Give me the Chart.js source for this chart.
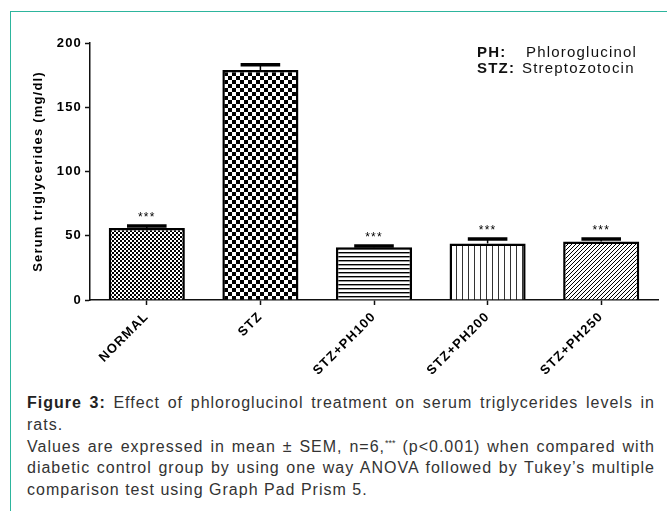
<!DOCTYPE html>
<html>
<head>
<meta charset="utf-8">
<title>Serum triglycerides</title>
<script src="https://cdn.jsdelivr.net/npm/chart.js@4.4.0/dist/chart.umd.min.js"></script>
<style>
  html, body { margin: 0; padding: 0; background: #fff; }
  body { width: 667px; height: 511px; position: relative; overflow: hidden; font-family: 'Liberation Sans', Arial, sans-serif; }
  #frame { position: absolute; left: 10px; top: 11px; width: 700px; height: 600px; border-left: 1.5px solid #2db59d; border-top: 1.5px solid #2db59d; }
  #bar-chart { position: absolute; left: 0; top: 0; }
  .key { position: absolute; left: 0; top: 0; font-size: 15px; line-height: 16px; letter-spacing: 1.2px; color: #111; white-space: nowrap; }
  .key span { position: absolute; }
  #caption { position: absolute; left: 27px; top: 392px; width: 628px; font-size: 16px; line-height: 21.8px; letter-spacing: 1px; color: #333; }
  #caption b { color: #222; }
  #caption .j { text-align: justify; text-align-last: justify; }
  #caption sup { font-size: 9px; line-height: 0; vertical-align: 6px; letter-spacing: 0; }
</style>
</head>
<body>
<div id="frame"></div>
<canvas id="bar-chart" width="667" height="380"></canvas>
<div class="key">
  <span style="left:477px; top:44px;"><b>PH:</b></span>
  <span style="left:526px; top:44px;">Phloroglucinol</span>
  <span style="left:477px; top:60px;"><b>STZ:</b></span>
  <span style="left:522px; top:60px;">Streptozotocin</span>
</div>
<div id="caption">
  <div class="j"><b>Figure 3:</b> Effect of phloroglucinol treatment on serum triglycerides levels in</div>
  <div>rats.</div>
  <div class="j">Values are expressed in mean ± SEM, n=6,<sup>***</sup> (p&lt;0.001) when compared with</div>
  <div class="j">diabetic control group by using one way ANOVA followed by Tukey’s multiple</div>
  <div>comparison test using Graph Pad Prism 5.</div>
</div>
<script>
( function() {

  var categories = [ 'NORMAL', 'STZ', 'STZ+PH100', 'STZ+PH200', 'STZ+PH250' ];
  var means = [ 56, 179, 41, 44, 45.5 ];
  var sems = [ 1.5, 4, 1, 3.5, 2 ];
  var marks = [ '***', '', '***', '***', '***' ];
  var yTicks = [ 0, 50, 100, 150, 200 ];

  var FONT = '"Liberation Sans", Arial, sans-serif';
  var INK = '#111';

  // small tiles for the black and white fills
  var makePattern = function( w, h, draw ) {
    var c = document.createElement( 'canvas' );
    c.width = w;
    c.height = h;
    var g = c.getContext( '2d' );
    g.fillStyle = '#fff';
    g.fillRect( 0, 0, w, h );
    g.fillStyle = '#000';
    draw( g );
    return g.createPattern( c, 'repeat' );
  };

  var fills = [
    makePattern( 4, 4, function( g ) {
      g.fillRect( 0, 0, 2, 2 );
      g.fillRect( 2, 2, 2, 2 );
    } ),
    makePattern( 8, 8, function( g ) {
      g.fillRect( 0, 0, 4, 4 );
      g.fillRect( 4, 4, 4, 4 );
    } ),
    makePattern( 4, 4, function( g ) {
      g.fillRect( 0, 0, 4, 1 );
      g.fillStyle = '#999';
      g.fillRect( 0, 1, 4, 1 );
    } ),
    makePattern( 6, 6, function( g ) {
      g.fillStyle = '#333';
      g.fillRect( 0, 0, 1, 6 );
    } ),
    makePattern( 4, 4, function( g ) {
      g.fillRect( 3, 0, 1, 1 );
      g.fillRect( 2, 1, 1, 1 );
      g.fillRect( 1, 2, 1, 1 );
      g.fillRect( 0, 3, 1, 1 );
    } )
  ];

  var spacing = {
    id: 'spacing',
    beforeUpdate: function( chart ) {
      chart.ctx.letterSpacing = '1.2px';
    },
    beforeDraw: function( chart ) {
      chart.ctx.letterSpacing = '1.2px';
    }
  };

  var errorBars = {
    id: 'errorBars',
    afterDatasetsDraw: function( chart ) {

      var ctx = chart.ctx;
      var y = chart.scales.y;
      var meta = chart.getDatasetMeta( 0 );

      ctx.save();
      ctx.strokeStyle = '#000';
      ctx.fillStyle = '#000';

      meta.data.forEach( function( bar, i ) {

        var top = y.getPixelForValue( means[ i ] + sems[ i ] );
        var half = bar.width * 0.26;

        ctx.lineWidth = 1.5;
        ctx.beginPath();
        ctx.moveTo( bar.x, bar.y );
        ctx.lineTo( bar.x, top );
        ctx.stroke();

        ctx.lineWidth = 3.5;
        ctx.beginPath();
        ctx.moveTo( bar.x - half, top );
        ctx.lineTo( bar.x + half, top );
        ctx.stroke();

        if ( marks[ i ] ) {
          ctx.font = '12px ' + FONT;
          ctx.textAlign = 'center';
          ctx.textBaseline = 'alphabetic';
          ctx.fillText( marks[ i ], bar.x, top - 5 );
        }

      } );

      ctx.restore();

    }
  };

  var config = {
    type: 'bar',
    data: {
      labels: categories,
      datasets: [
        {
          data: means,
          backgroundColor: fills,
          borderColor: '#000',
          borderWidth: 2.5,
          barPercentage: 0.67,
          categoryPercentage: 1
        }
      ]
    },
    options: {
      responsive: false,
      animation: false,
      devicePixelRatio: 1,
      layout: {
        padding: { top: 43, right: 9, bottom: 0, left: 0 }
      },
      plugins: {
        legend: { display: false },
        tooltip: { enabled: false }
      },
      scales: {
        x: {
          afterFit: function( s ) { s.height = 80; },
          border: { display: true, color: INK, width: 1.5 },
          grid: { offset: false, drawOnChartArea: false, tickLength: 5, color: INK, tickWidth: 1.5 },
          ticks: {
            color: '#000',
            font: { family: FONT, size: 13, weight: 'bold' },
            minRotation: 45,
            maxRotation: 45,
            autoSkip: false,
            padding: 4
          }
        },
        y: {
          min: 0,
          max: 200,
          afterBuildTicks: function( s ) {
            s.ticks = yTicks.map( function( v ) { return { value: v }; } );
          },
          afterFit: function( s ) { s.width = 90; },
          border: { display: true, color: INK, width: 1.5 },
          grid: { drawOnChartArea: false, tickLength: 5, color: INK, tickWidth: 1.5 },
          ticks: {
            color: '#000',
            font: { family: FONT, size: 13, weight: 'bold' },
            padding: 3
          },
          title: {
            display: true,
            text: 'Serum triglycerides (mg/dl)',
            color: '#000',
            font: { family: FONT, size: 13, weight: 'bold' },
            padding: { top: 31, bottom: 0 }
          }
        }
      }
    },
    plugins: [ spacing, errorBars ]
  };

  new Chart( document.getElementById( 'bar-chart' ), config );

} )();
</script>
</body>
</html>
